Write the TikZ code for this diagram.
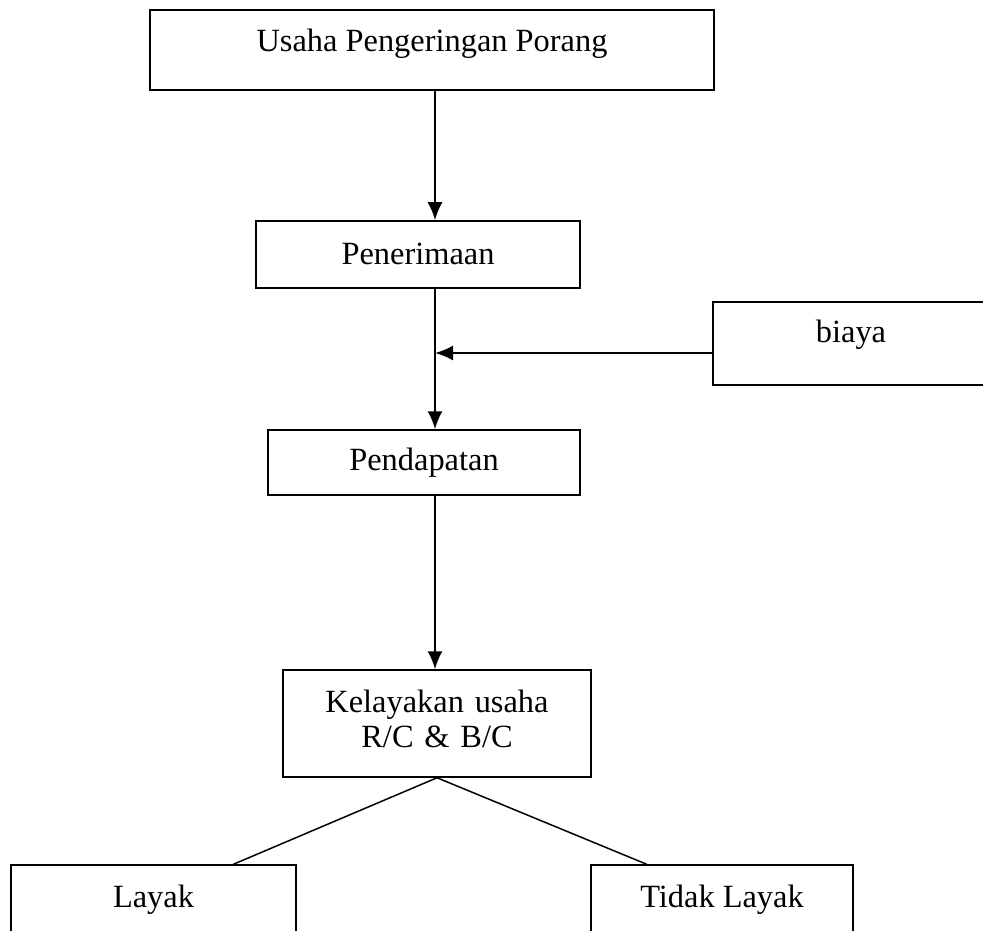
\documentclass[tikz,border=0pt]{standalone}
\usepackage{fontspec}
\setmainfont{Liberation Serif}
\usetikzlibrary{arrows.meta,calc}
\tikzset{>={Latex[length=9pt,width=7.5pt]}}

\begin{document}
\begin{tikzpicture}[x=0.5pt,y=-0.5pt]
	\tikzstyle{box} = [draw=black, line width=0.75pt, inner sep=0pt, anchor=base, font=\fontsize{16.2pt}{17.5pt}\selectfont]
	\tikzstyle{edge} = [->, line width=1pt]
	\tikzstyle{link} = [line width=0.75pt]

	\clip (0,0) rectangle (983,930);

%----------Alur utama:----------------------------------------
	\node[box, minimum width=282pt, text height=21pt, text depth=19pt] (usaha) at (432,52) {Usaha Pengeringan Porang};
	\node[box, minimum width=162pt, text height=21.5pt, text depth=12pt] (terima) at (418,264) {Penerimaan};
	\node[box, minimum width=138pt, text height=20pt, text depth=21.5pt] (biaya) at (851,342) {biaya};
	\node[box, minimum width=156pt, text height=20pt, text depth=12.5pt] (dapat) at (424,470) {Pendapatan};
	\node[box, text width=154pt, align=center, text height=21pt, text depth=32.5pt] (kelayakan) at (437,712) {Kelayakan usaha\\R/C \& B/C};

	\coordinate (axis) at (435,0);
	\coordinate (join) at (435,353);

	\draw[edge] (usaha.south -| axis) -- (terima.north -| axis);
	\draw[edge] (terima.south -| axis) -- (dapat.north -| axis);
	\draw[edge] (biaya.west |- join) -- (join);
	\draw[edge] (dapat.south -| axis) -- (kelayakan.north -| axis);

%----------Hasil:---------------------------------------------
	\node[box, minimum width=142.5pt, text height=21pt, text depth=26.5pt] (layak) at (153.5,907) {Layak};
	\node[box, minimum width=131pt, text height=21pt, text depth=26.5pt] (tidak_layak) at (722,907) {Tidak Layak};

	\draw[link] (kelayakan.south) -- ($(layak.north west)!0.779!(layak.north east)$);
	\draw[link] (kelayakan.south) -- ($(tidak_layak.north west)!0.214!(tidak_layak.north east)$);
\end{tikzpicture}
\end{document}
